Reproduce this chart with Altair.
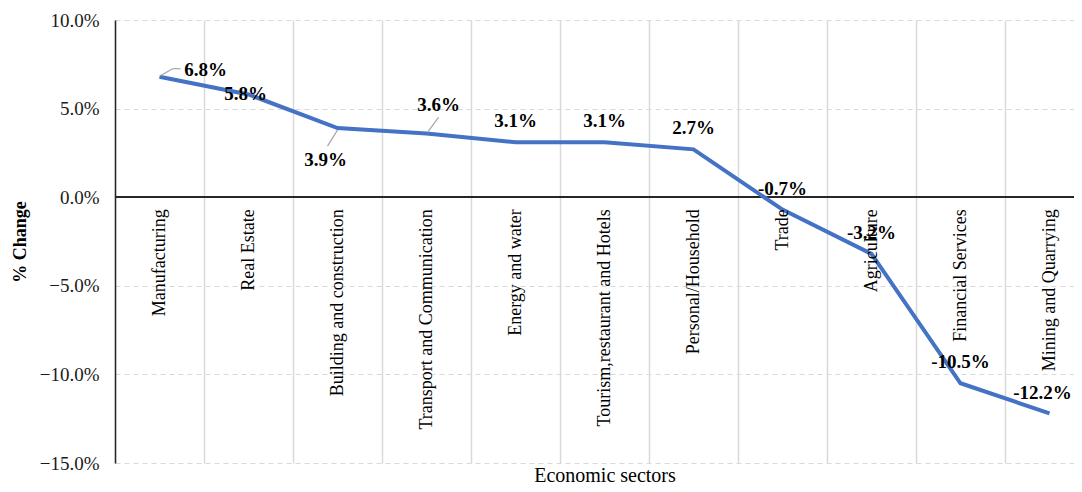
import altair as alt
import pandas as pd

sectors = [
    "Manufacturing",
    "Real Estate",
    "Building  and construction",
    "Transport and Communication",
    "Energy and water",
    "Tourism,restaurant and Hotels",
    "Personal/Household",
    "Trade",
    "Agriculture",
    "Financial Services",
    "Mining and Quarrying",
]
changes = [6.8, 5.8, 3.9, 3.6, 3.1, 3.1, 2.7, -0.7, -3.2, -10.5, -12.2]
y_ticks = [-15, -10, -5, 0, 5, 10]

df = pd.DataFrame({
    "sector": sectors,
    "change": [c / 100 for c in changes],
    "label": [f"{c:.1f}%" for c in changes],
})

FONT = "Liberation Serif"

x_enc = alt.X(
    "sector:N",
    sort=sectors,
    bandPosition=0.5,
    scale=alt.Scale(type="band", domain=sectors, paddingInner=0, paddingOuter=0, range=[0, 979]),
    axis=alt.Axis(
        title="Economic sectors", labels=False, ticks=False, domain=False,
        grid=True, gridColor="#d9d9d9", gridWidth=1.5, bandPosition=0,
        titleFont=FONT, titleFontSize=20, titleFontWeight="normal",
        titleColor="black", titlePadding=2,
    ),
)
y_enc = alt.Y(
    "change:Q",
    scale=alt.Scale(domain=[-0.15, 0.10], nice=False),
    axis=alt.Axis(
        format=".1%", values=[t / 100 for t in y_ticks], title="% Change",
        grid=True, gridDash=[5, 4], gridColor="#d9d9d9", gridWidth=1.2,
        ticks=False, domainColor="#262626", domainWidth=1.5,
        labelFont=FONT, labelFontSize=19, labelColor="#1a1a1a", labelPadding=16,
        titleFont=FONT, titleFontSize=18, titleFontWeight="bold",
        titleColor="black", titlePadding=10,
    ),
)

base = alt.Chart(df)

zero = base.mark_rule(color="#262626", strokeWidth=1.5).encode(y=alt.datum(0))

line = base.mark_line(color="#4472C4", strokeWidth=4).encode(x=x_enc, y=y_enc)

special = ["Manufacturing", "Real Estate", "Building  and construction",
           "Transport and Communication", "Mining and Quarrying"]

txt_style = dict(font=FONT, fontSize=19, fontWeight="bold", color="black", baseline="middle")

labels_default = base.transform_filter(
    ~alt.FieldOneOfPredicate(field="sector", oneOf=special)
).mark_text(dy=-21, **txt_style).encode(x=x_enc, y=y_enc, text="label:N")

lab_manu = base.transform_filter(alt.datum.sector == "Manufacturing").mark_text(
    dx=46, dy=-7, **txt_style).encode(x=x_enc, y=y_enc, text="label:N")
lab_real = base.transform_filter(alt.datum.sector == "Real Estate").mark_text(
    dx=-3, dy=0, **txt_style).encode(x=x_enc, y=y_enc, text="label:N")
lab_build = base.transform_filter(alt.datum.sector == "Building  and construction").mark_text(
    dx=-12, dy=32, **txt_style).encode(x=x_enc, y=y_enc, text="label:N")
lab_trans = base.transform_filter(alt.datum.sector == "Transport and Communication").mark_text(
    dx=12, dy=-28, **txt_style).encode(x=x_enc, y=y_enc, text="label:N")
lab_mine = base.transform_filter(alt.datum.sector == "Mining and Quarrying").mark_text(
    dx=-7, dy=-20, **txt_style).encode(x=x_enc, y=y_enc, text="label:N")

leader_style = dict(color="#a6a6a6", strokeWidth=1.2)
lead_manu = base.transform_filter(alt.datum.sector == "Manufacturing").mark_rule(
    xOffset=1, yOffset=-1, x2Offset=13, y2Offset=-8, **leader_style
).encode(x=x_enc, x2=alt.X2("sector:N"), y=y_enc, y2=alt.Y2("change:Q"))
lead_manu2 = base.transform_filter(alt.datum.sector == "Manufacturing").mark_rule(
    xOffset=13, yOffset=-8, x2Offset=21, y2Offset=-8, **leader_style
).encode(x=x_enc, x2=alt.X2("sector:N"), y=y_enc, y2=alt.Y2("change:Q"))
lead_build = base.transform_filter(alt.datum.sector == "Building  and construction").mark_rule(
    xOffset=0, yOffset=2, x2Offset=-10, y2Offset=18, **leader_style
).encode(x=x_enc, x2=alt.X2("sector:N"), y=y_enc, y2=alt.Y2("change:Q"))
lead_trans = base.transform_filter(alt.datum.sector == "Transport and Communication").mark_rule(
    xOffset=1, yOffset=-1, x2Offset=12, y2Offset=-16, **leader_style
).encode(x=x_enc, x2=alt.X2("sector:N"), y=y_enc, y2=alt.Y2("change:Q"))

cat_labels = base.mark_text(
    font=FONT, fontSize=18, color="black", angle=270, align="right",
    baseline="middle", yOffset=12,
).encode(x=x_enc, y=alt.datum(0), text="sector:N")

chart = alt.layer(
    zero, line, lead_manu, lead_manu2, lead_build, lead_trans,
    labels_default, lab_manu, lab_real, lab_build, lab_trans, lab_mine, cat_labels,
).properties(
    width=959, height=443,
    padding={"left": 107, "top": 12, "right": 0, "bottom": 21},
    autosize=alt.AutoSizeParams(type="none"),
).configure_view(stroke=None)

chart.save("out.html", embed_options={"renderer": "svg", "actions": False})
